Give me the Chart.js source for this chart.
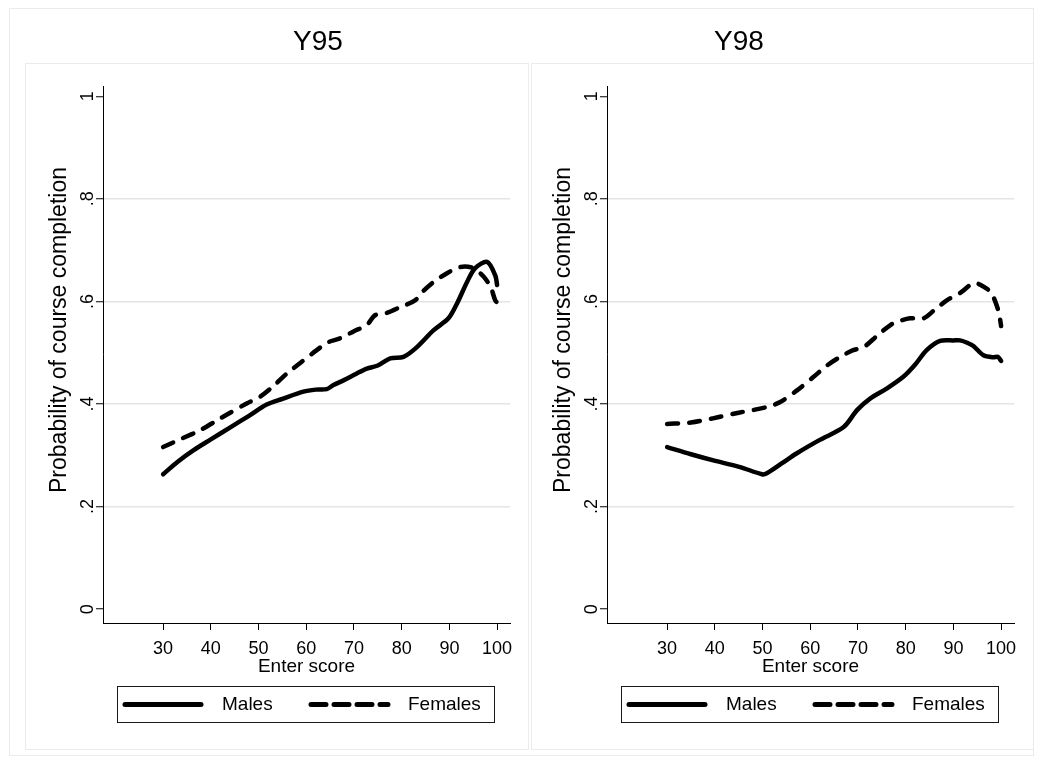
<!DOCTYPE html>
<html><head><meta charset="utf-8">
<script src="https://cdn.jsdelivr.net/npm/chart.js@4.4.1/dist/chart.umd.min.js"></script>
<style>
html,body{margin:0;padding:0;background:#fff;}
#wrap{position:relative;width:1040px;height:763px;overflow:hidden;background:#fff;}
.box{position:absolute;border:1px solid #ebebeb;box-sizing:border-box;}
canvas{position:absolute;}
</style></head><body>
<div id="wrap">
<div class="box" style="left:9px;top:8px;width:1025px;height:748px;"></div>
<div class="box" style="left:25px;top:63px;width:504px;height:687px;"></div>
<div class="box" style="left:531px;top:63px;width:503px;height:687px;"></div>
<canvas id="c1" width="520" height="747" style="left:9px;top:8px"></canvas>
<canvas id="c2" width="520" height="747" style="left:513px;top:8px"></canvas>
</div>
<script>
// ---- data ----
const xTicks = [30, 40, 50, 60, 70, 80, 90, 100];
const yTicks = [0, 0.2, 0.4, 0.6, 0.8, 1];
const yTickLabels = ['0', '.2', '.4', '.6', '.8', '1'];
const seriesNames = ['Males', 'Females'];
const panelTitles = ['Y95', 'Y98'];
const xTitle = 'Enter score';
const yTitle = 'Probability of course completion';

const y95MalesX = [30, 33, 36.4, 40, 44, 48, 51.7, 55, 59.4, 62, 64.3, 65.7, 68, 70.5, 72.7, 75, 77.6, 80.4, 83.2, 86.7, 89.8, 91.6, 93.7, 95.4, 97.9, 99.6, 100];
const y95MalesY = [0.263, 0.287, 0.310, 0.331, 0.354, 0.377, 0.399, 0.410, 0.424, 0.428, 0.429, 0.437, 0.447, 0.459, 0.469, 0.475, 0.489, 0.492, 0.511, 0.544, 0.567, 0.596, 0.638, 0.665, 0.677, 0.651, 0.632];

const y95FemalesX = [30, 34, 37.8, 42, 47.5, 50.3, 53, 55.9, 59, 62.2, 64.5, 67.1, 70, 72.7, 74.4, 77, 79.7, 82.8, 84.5, 86.7, 89.5, 92.3, 95, 97.1, 98.6, 99.6, 100];
const y95FemalesY = [0.316, 0.333, 0.349, 0.372, 0.401, 0.414, 0.434, 0.459, 0.482, 0.505, 0.520, 0.528, 0.542, 0.554, 0.573, 0.578, 0.589, 0.602, 0.620, 0.638, 0.655, 0.667, 0.665, 0.649, 0.629, 0.602, 0.598];

const y98MalesX = [30, 35, 39.7, 45.3, 49.9, 50.9, 54, 57.2, 62, 67, 69.8, 72.6, 76, 79.5, 82, 84.4, 87.2, 90, 91.4, 93, 94.2, 96.3, 98.4, 99.3, 100];
const y98MalesY = [0.316, 0.302, 0.290, 0.277, 0.263, 0.265, 0.284, 0.304, 0.330, 0.355, 0.388, 0.411, 0.430, 0.453, 0.477, 0.505, 0.523, 0.524, 0.524, 0.519, 0.513, 0.495, 0.491, 0.492, 0.484];

const y98FemalesX = [30, 35, 39.6, 45, 50.9, 53.7, 57, 60.7, 63.5, 66.3, 69, 71.2, 74, 76.8, 78.5, 80.9, 83.7, 86, 88.6, 91.5, 94.2, 95.5, 97.8, 99.4, 100];
const y98FemalesY = [0.361, 0.364, 0.372, 0.383, 0.394, 0.404, 0.425, 0.453, 0.475, 0.492, 0.505, 0.511, 0.533, 0.554, 0.561, 0.567, 0.567, 0.583, 0.602, 0.617, 0.636, 0.633, 0.618, 0.583, 0.552];

// ---- helpers ----
const FONT = '"Liberation Sans", Arial, Helvetica, sans-serif';
Chart.defaults.font.family = FONT;
Chart.defaults.color = '#000';

function pts(xs, ys) { return xs.map((x, i) => ({ x: x, y: ys[i] })); }

const panelDecor = {
  id: 'panelDecor',
  afterDraw(chart, args, o) {
    const ctx = chart.ctx, a = chart.chartArea;
    ctx.save();
    ctx.fillStyle = '#000';
    // panel title
    ctx.font = '28px ' + FONT;
    ctx.textAlign = 'center';
    ctx.textBaseline = 'middle';
    ctx.fillText(o.title, o.titleX, o.titleY);
    // y axis title (rotated)
    ctx.save();
    ctx.translate(o.yTitleX, o.yTitleY);
    ctx.rotate(-Math.PI / 2);
    ctx.font = '23px ' + FONT;
    ctx.fillText(o.yTitle, 0, 0);
    ctx.restore();
    // legend box
    const bl = a.left + o.insetLeft, br = a.right - o.insetRight;
    ctx.strokeStyle = '#1a1a1a';
    ctx.lineWidth = 1;
    ctx.strokeRect(Math.round(bl) + 0.5, o.top + 0.5, Math.round(br - bl), o.height);
    const cy = o.top + o.height / 2 + 0.5;
    ctx.font = '19px ' + FONT;
    ctx.textAlign = 'left';
    chart.data.datasets.forEach((ds, i) => {
      const it = o.items[i];
      ctx.beginPath();
      ctx.lineWidth = 5;
      ctx.lineCap = 'round';
      ctx.strokeStyle = '#000';
      ctx.setLineDash(ds.borderDash && ds.borderDash.length ? o.legendDash : []);
      ctx.moveTo(bl + it.l0, cy);
      ctx.lineTo(bl + it.l1, cy);
      ctx.stroke();
      ctx.setLineDash([]);
      ctx.fillText(ds.label, bl + it.tx, cy);
    });
    ctx.restore();
  }
};

function makeChart(id, title, titleX, mX, mY, fX, fY) {
  return new Chart(document.getElementById(id), {
    type: 'line',
    data: {
      datasets: [
        { label: seriesNames[0], data: pts(mX, mY), borderColor: '#000', borderWidth: 4.5,
          borderCapStyle: 'round', borderJoinStyle: 'round', pointRadius: 0, tension: 0.3, fill: false },
        { label: seriesNames[1], data: pts(fX, fY), borderColor: '#000', borderWidth: 4.5, borderDash: [11, 11],
          borderCapStyle: 'round', borderJoinStyle: 'round', pointRadius: 0, tension: 0.3, fill: false }
      ]
    },
    options: {
      responsive: false,
      animation: false,
      devicePixelRatio: 1,
      layout: { padding: { left: 0, right: 19, top: 78, bottom: 77 } },
      plugins: {
        legend: { display: false },
        title: { display: false },
        tooltip: { enabled: false },
        panelDecor: {
          title: title, titleX: titleX, titleY: 34,
          yTitle: yTitle, yTitleX: 51, yTitleY: 322,
          insetLeft: 14, insetRight: 16, top: 678, height: 36,
          legendDash: [15, 8],
          items: [{ l0: 8, l1: 84, tx: 105 }, { l0: 194, l1: 271, tx: 291 }]
        }
      },
      scales: {
        x: {
          type: 'linear', min: 17.4, max: 102.7,
          afterBuildTicks: s => { s.ticks = xTicks.map(v => ({ value: v })); },
          afterFit: s => { s.height = 55; },
          grid: { display: true, drawOnChartArea: false, drawTicks: true, tickLength: 7, tickColor: '#000', tickWidth: 1 },
          border: { display: true, color: '#000', width: 1 },
          ticks: { font: { size: 18 }, color: '#000', padding: 8, minRotation: 0, maxRotation: 0, autoSkip: false,
                   callback: v => String(v) },
          title: { display: true, text: xTitle, font: { size: 19 }, color: '#000', padding: { top: 0, bottom: 0 } }
        },
        y: {
          type: 'linear', min: -0.027, max: 1.02,
          afterBuildTicks: s => { s.ticks = yTicks.map(v => ({ value: v })); },
          afterFit: s => { s.width = 94; },
          grid: {
            display: true, drawTicks: true, tickLength: 7, tickColor: '#000', tickWidth: 1, lineWidth: 1.5,
            color: c => (c.tick && c.tick.value > 0 && c.tick.value < 1) ? '#e4e4e4' : 'rgba(0,0,0,0)'
          },
          border: { display: true, color: '#000', width: 1 },
          ticks: { font: { size: 18 }, color: '#000', padding: 0, minRotation: 90, maxRotation: 90, crossAlign: 'center',
                   autoSkip: false, callback: v => yTickLabels[yTicks.indexOf(v)] },
          title: { display: false }
        }
      }
    },
    plugins: [panelDecor]
  });
}

makeChart('c1', panelTitles[0], 309, y95MalesX, y95MalesY, y95FemalesX, y95FemalesY);
makeChart('c2', panelTitles[1], 226, y98MalesX, y98MalesY, y98FemalesX, y98FemalesY);
</script>
</body></html>
